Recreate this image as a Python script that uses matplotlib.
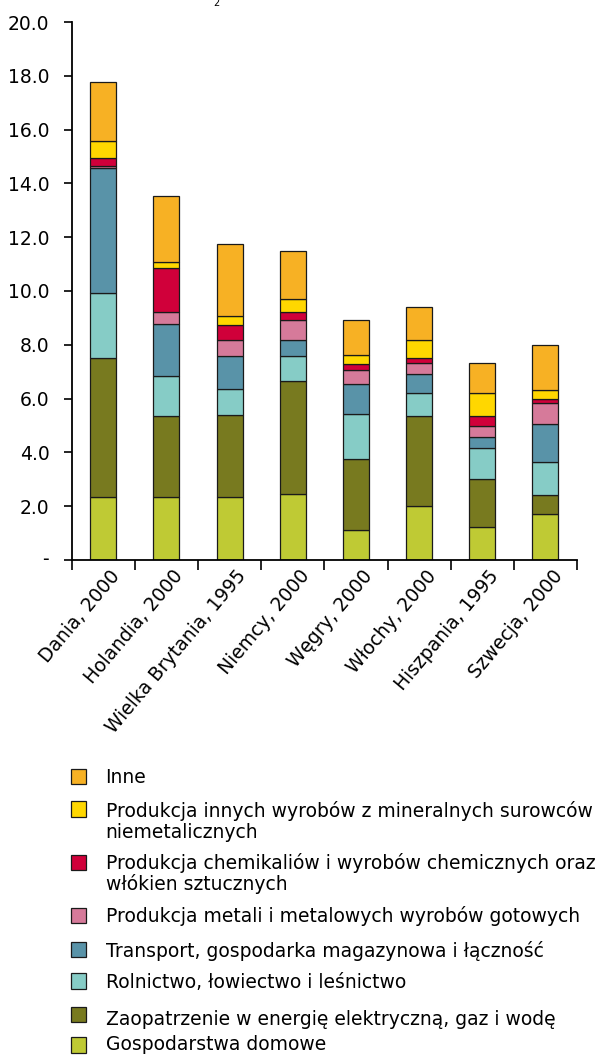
import matplotlib
matplotlib.use("Agg")
import matplotlib.pyplot as plt
import matplotlib.transforms as mtransforms
from matplotlib.patches import Rectangle
import numpy as np

plt.rcParams['font.family'] = ['DejaVu Sans']

countries = ["Dania, 2000", "Holandia, 2000", "Wielka Brytania, 1995", "Niemcy, 2000",
             "Węgry, 2000", "Włochy, 2000", "Hiszpania, 1995", "Szwecja, 2000"]

# stacked from bottom to top
gospodarstwa = [2.35, 2.33, 2.35, 2.47, 1.11, 2.02, 1.21, 1.71]
zaopatrzenie = [5.17, 3.01, 3.04, 4.18, 2.66, 3.32, 1.81, 0.70]
rolnictwo    = [2.42, 1.51, 0.97, 0.92, 1.67, 0.86, 1.16, 1.23]
transport    = [4.63, 1.93, 1.21, 0.59, 1.12, 0.70, 0.41, 1.41]
metale       = [0.08, 0.45, 0.59, 0.77, 0.50, 0.42, 0.41, 0.80]
chemikalia   = [0.29, 1.63, 0.57, 0.30, 0.21, 0.20, 0.35, 0.15]
mineralne    = [0.62, 0.20, 0.35, 0.47, 0.35, 0.67, 0.85, 0.31]
inne         = [2.21, 2.47, 2.65, 1.80, 1.31, 1.20, 1.12, 1.67]

series = [gospodarstwa, zaopatrzenie, rolnictwo, transport, metale, chemikalia, mineralne, inne]
colors = ["#BFCA34", "#787A1F", "#86CCC6", "#5993A8", "#D67A9A", "#D0003A", "#FFD700", "#F7B124"]
labels = ["Gospodarstwa domowe",
          "Zaopatrzenie w energię elektryczną, gaz i wodę",
          "Rolnictwo, łowiectwo i leśnictwo",
          "Transport, gospodarka magazynowa i łączność",
          "Produkcja metali i metalowych wyrobów gotowych",
          "Produkcja chemikaliów i wyrobów chemicznych oraz\nwłókien sztucznych",
          "Produkcja innych wyrobów z mineralnych surowców\nniemetalicznych",
          "Inne"]

yticks = [0, 2, 4, 6, 8, 10, 12, 14, 16, 18, 20]
ytick_labels = ["", "2.0", "4.0", "6.0", "8.0", "10.0", "12.0", "14.0", "16.0", "18.0", "20.0"]

W, H = 595, 1055
FS = 13.5
fig = plt.figure(figsize=(W / 100, H / 100), dpi=100)
ax_left, ax_right, ax_bottom, ax_top = 71.7, 577.0, 560.0, 22.0
ax = fig.add_axes([ax_left / W, 1 - ax_bottom / H, (ax_right - ax_left) / W,
                   (ax_bottom - ax_top) / H])

x = np.arange(len(countries))
bottom = np.zeros(len(countries))
for vals, col, lab in zip(series, colors, labels):
    ax.bar(x, vals, width=0.41, bottom=bottom, color=col, edgecolor="#1a1a1a",
           linewidth=0.9, label=lab)
    bottom += np.array(vals)

ax.set_xlim(-0.5, len(countries) - 0.5)
ax.set_ylim(0, 20)
ax.set_yticks(yticks)
ax.set_yticklabels(ytick_labels, fontsize=FS)
ax.tick_params(axis="y", direction="out", length=6, width=1.2, pad=10)
# zero shown as a dash (accounting style)
ax.text(-(ax_left - 48.5) / (ax_right - ax_left), 0, "-",
        transform=mtransforms.blended_transform_factory(ax.transAxes, ax.transData),
        ha="right", va="center", fontsize=FS)

ax.set_xticks(x)
ax.set_xticklabels(countries, rotation=50, ha="right", va="center",
                   rotation_mode="anchor", fontsize=FS)
ax.tick_params(axis="x", which="major", length=0, pad=9.0)
ax.set_xticks(np.arange(-0.5, len(countries), 1.0), minor=True)
ax.tick_params(axis="x", which="minor", direction="out", length=7, width=1.2)
offset = mtransforms.ScaledTranslation(13.5 / 100, 0, fig.dpi_scale_trans)
for lbl in ax.get_xticklabels():
    lbl.set_transform(lbl.get_transform() + offset)

for s in ["top", "right"]:
    ax.spines[s].set_visible(False)
for s in ["left", "bottom"]:
    ax.spines[s].set_linewidth(1.3)

# small clipped subscript from a title above
fig.text(216 / W, 1 - 3 / H, "2", fontsize=7, ha="center", va="center")

# legend, drawn manually (top to bottom)
legend_rows = [  # (label index, square center y px, first baseline y px)
    (7, 776.3, 782.7),
    (6, 808.8, 816.7),
    (5, 862.5, 869.3),
    (4, 915.5, 922.3),
    (3, 949.5, 956.7),
    (2, 980.8, 988.3),
    (1, 1014.5, 1025.0),
    (0, 1045.0, 1050.5),
]
sq = 15.5
for idx, sy, by in legend_rows:
    fig.add_artist(Rectangle((70.7 / W, 1 - (sy + sq / 2) / H), sq / W, sq / H,
                             transform=fig.transFigure, facecolor=colors[idx],
                             edgecolor="#1a1a1a", linewidth=0.9))
    for k, line in enumerate(labels[idx].split("\n")):
        fig.text(105.5 / W, 1 - (by + k * 20.8) / H, line, fontsize=FS,
                 ha="left", va="baseline")

fig.savefig("out.png", dpi=100)
